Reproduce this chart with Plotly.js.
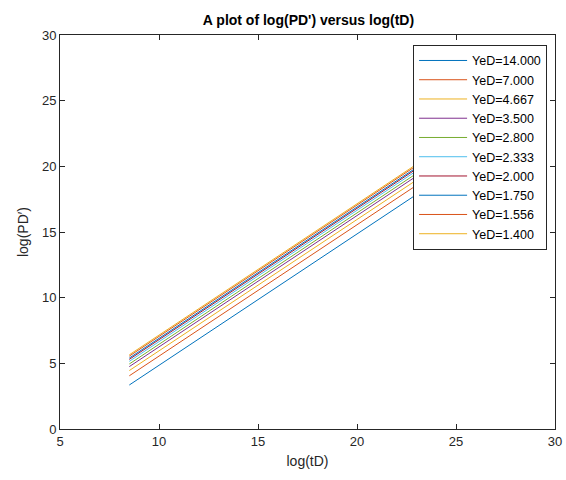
<!DOCTYPE html>
<html>
<head>
<meta charset="utf-8">
<script src="https://cdn.plot.ly/plotly-3.0.1.min.js"></script>
<style>html,body{margin:0;padding:0;background:#fff;}#chart{width:566px;height:480px;}</style>
</head>
<body>
<div id="chart"></div>
<script>
var seriesNames = ["YeD=14.000","YeD=7.000","YeD=4.667","YeD=3.500","YeD=2.800","YeD=2.333","YeD=2.000","YeD=1.750","YeD=1.556","YeD=1.400"];
var logTD = [8.5, 23];
var logPD_14000 = [3.35, 17.85];
var logPD_7000  = [4.05, 18.55];
var logPD_4667  = [4.45, 18.95];
var logPD_3500  = [4.75, 19.25];
var logPD_2800  = [4.95, 19.45];
var logPD_2333  = [5.15, 19.65];
var logPD_2000  = [5.30, 19.80];
var logPD_1750  = [5.40, 19.90];
var logPD_1556  = [5.55, 20.05];
var logPD_1400  = [5.65, 20.15];
var allY = [logPD_14000, logPD_7000, logPD_4667, logPD_3500, logPD_2800, logPD_2333, logPD_2000, logPD_1750, logPD_1556, logPD_1400];
var colors = ["#0072BD","#D95319","#EDB120","#7E2F8E","#77AC30","#4DBEEE","#A2142F","#0072BD","#D95319","#EDB120"];
var traces = seriesNames.map(function(n,i){
  return {x: logTD, y: allY[i], type:'scatter', mode:'lines', name:n, line:{color:colors[i], width:1}};
});
var axCommon = {
  showline:true, linecolor:'#262626', linewidth:1, mirror:'ticks',
  ticks:'inside', ticklen:5, tickcolor:'#262626', showgrid:false, zeroline:false,
  tickfont:{family:'Liberation Sans, Arial, sans-serif', size:13, color:'#262626'}
};
var layout = {
  width:566, height:480,
  margin:{l:60, r:11, t:35, b:51},
  paper_bgcolor:'#fff', plot_bgcolor:'#fff',
  font:{family:'Liberation Sans, Arial, sans-serif', color:'#262626'},
  title:{text:"<b>A plot of log(PD') versus log(tD)</b>", x:0.545, xanchor:'center', y:0.958, yanchor:'middle', font:{size:14, color:'#000'}},
  xaxis:Object.assign({}, axCommon, {range:[5,30], dtick:5, title:{text:'log(tD)', font:{size:14, color:'#262626'}, standoff:8}}),
  yaxis:Object.assign({}, axCommon, {range:[0,30], dtick:5, title:{text:'log(PD\u2032)', font:{size:14, color:'#262626'}, standoff:10}}),
  showlegend:true,
  legend:{x:0.984, xanchor:'right', y:0.975, yanchor:'top', bgcolor:'#fff', bordercolor:'#262626', borderwidth:1,
    itemwidth:48, font:{family:'Liberation Sans, Arial, sans-serif', size:12.5, color:'#000'}, tracegroupgap:0}
};
Plotly.newPlot('chart', traces, layout, {displayModeBar:false, staticPlot:true});
</script>
</body>
</html>
